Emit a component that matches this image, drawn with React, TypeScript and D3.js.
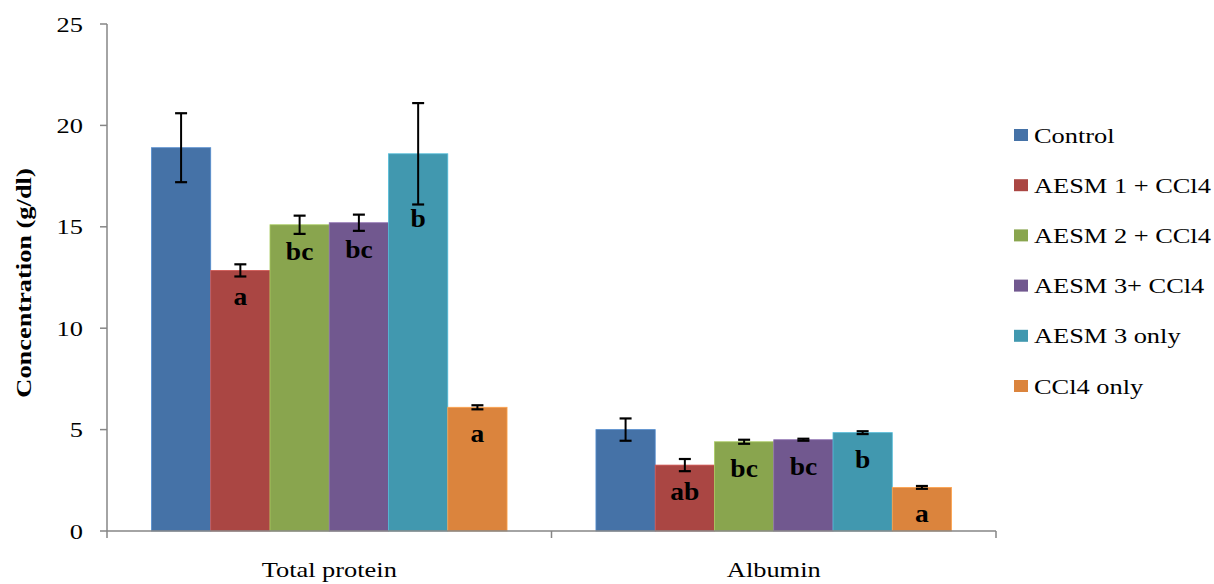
import React, { useEffect, useRef } from 'react';
import * as d3 from 'd3';

const categories = ['Total protein', 'Albumin'];
const series = ['Control', 'AESM 1 + CCl4', 'AESM 2 + CCl4', 'AESM 3+ CCl4', 'AESM 3 only', 'CCl4 only'];
const colors = ['#4572A7', '#AA4643', '#89A54E', '#71588F', '#4198AF', '#DB843D'];
// values per series: [Total protein, Albumin]
const values = [
  [18.9, 5.0],
  [12.85, 3.25],
  [15.1, 4.4],
  [15.2, 4.5],
  [18.6, 4.85],
  [6.1, 2.15]
];
const errors = [
  [1.7, 0.55],
  [0.3, 0.3],
  [0.45, 0.1],
  [0.4, 0.05],
  [2.5, 0.07],
  [0.1, 0.07]
];
const letters = [
  ['', ''],
  ['a', 'ab'],
  ['bc', 'bc'],
  ['bc', 'bc'],
  ['b', 'b'],
  ['a', 'a']
];
const yTicks = [0, 5, 10, 15, 20, 25];

const FONT = "'Liberation Serif', 'Times New Roman', Tinos, 'DejaVu Serif', serif";
const SX = 1.2; // the source text is drawn wider than normal

const App = () => {
  const ref = useRef<SVGSVGElement>(null);

  useEffect(() => {
    const width = 1214;
    const height = 584;
    const left = 107;
    const right = 996;
    const top = 24;
    const bottom = 531;

    const svg = d3.select(ref.current);
    svg.selectAll('*').remove();
    svg.attr('width', width).attr('height', height);

    const label = (parent, x, y, str, opts: any = {}) => {
      const t = parent
        .append('g')
        .attr('transform', `translate(${x},${y})${opts.rotate ? ` rotate(${opts.rotate})` : ''} scale(${opts.sx || SX},1)`)
        .append('text')
        .attr('text-anchor', opts.anchor || 'start')
        .attr('font-family', FONT)
        .attr('font-size', opts.size || 22)
        .attr('font-weight', opts.bold ? 'bold' : 'normal')
        .attr('fill', '#000')
        .text(str);
      return t;
    };

    const y = d3.scaleLinear().domain([0, 25]).range([bottom, top]);
    const x0 = d3.scaleBand().domain(categories).range([left, right]).padding(0);
    const x1 = d3.scaleBand().domain(series).range([0, x0.bandwidth()]).paddingInner(0).paddingOuter(0.75);

    const rows = [];
    categories.forEach((c, ci) => {
      series.forEach((s, si) => {
        rows.push({ c, s, si, v: values[si][ci], e: errors[si][ci], l: letters[si][ci] });
      });
    });

    const g = svg.append('g');
    const cx = (d) => x0(d.c) + x1(d.s) + x1.bandwidth() / 2;

    // bars
    g.selectAll('rect.bar')
      .data(rows)
      .enter()
      .append('rect')
      .attr('class', 'bar')
      .attr('x', (d) => x0(d.c) + x1(d.s))
      .attr('y', (d) => y(d.v))
      .attr('width', x1.bandwidth())
      .attr('height', (d) => y(0) - y(d.v))
      .attr('fill', (d) => colors[d.si])
      .attr('stroke', (d) => d3.color(colors[d.si]).brighter(0.6).toString())
      .attr('stroke-width', 0.8);

    // error bars
    const eb = g.selectAll('g.err').data(rows).enter().append('g');
    eb.append('line')
      .attr('x1', cx).attr('x2', cx)
      .attr('y1', (d) => y(d.v + d.e)).attr('y2', (d) => y(d.v - d.e))
      .attr('stroke', '#000').attr('stroke-width', 2);
    [1, -1].forEach((sgn) => {
      eb.append('line')
        .attr('x1', (d) => cx(d) - 6).attr('x2', (d) => cx(d) + 6)
        .attr('y1', (d) => y(d.v + sgn * d.e)).attr('y2', (d) => y(d.v + sgn * d.e))
        .attr('stroke', '#000').attr('stroke-width', 2.2);
    });

    // significance letters
    rows.filter((d) => d.l).forEach((d) => {
      label(g, cx(d), Math.max(y(d.v) + 35, y(d.v - d.e) + 23), d.l, { anchor: 'middle', bold: true, size: 25, sx: 1.1 });
    });

    // y axis
    const axisColor = '#868686';
    g.append('line')
      .attr('x1', left).attr('x2', left)
      .attr('y1', top).attr('y2', bottom)
      .attr('stroke', axisColor).attr('stroke-width', 1.5);
    yTicks.forEach((t) => {
      g.append('line')
        .attr('x1', left - 7).attr('x2', left)
        .attr('y1', y(t)).attr('y2', y(t))
        .attr('stroke', axisColor).attr('stroke-width', 1.5);
      label(g, 83, y(t) + 7.5, String(t), { anchor: 'end' });
    });

    // x axis
    g.append('line')
      .attr('x1', left).attr('x2', right)
      .attr('y1', bottom).attr('y2', bottom)
      .attr('stroke', axisColor).attr('stroke-width', 1.5);
    [left, ...categories.map((c) => x0(c) + x0.bandwidth())].forEach((tx) => {
      g.append('line')
        .attr('x1', tx).attr('x2', tx)
        .attr('y1', bottom).attr('y2', bottom + 7)
        .attr('stroke', axisColor).attr('stroke-width', 1.5);
    });
    categories.forEach((c) => {
      label(g, x0(c) + x0.bandwidth() / 2, 577, c, { anchor: 'middle' });
    });

    // y title
    label(g, 31, 283, 'Concentration (g/dl)', { anchor: 'middle', bold: true, rotate: -90 });

    // legend
    series.forEach((s, i) => {
      const cy = 135 + i * 50.2;
      g.append('rect')
        .attr('x', 1014).attr('y', cy - 6)
        .attr('width', 14).attr('height', 12)
        .attr('fill', colors[i]);
      label(g, 1034, cy + 7.5, s);
    });
  }, []);

  return (
    <svg ref={ref} style={{ position: 'absolute', left: 0, top: 0, background: '#fff' }} />
  );
};

export default App;
